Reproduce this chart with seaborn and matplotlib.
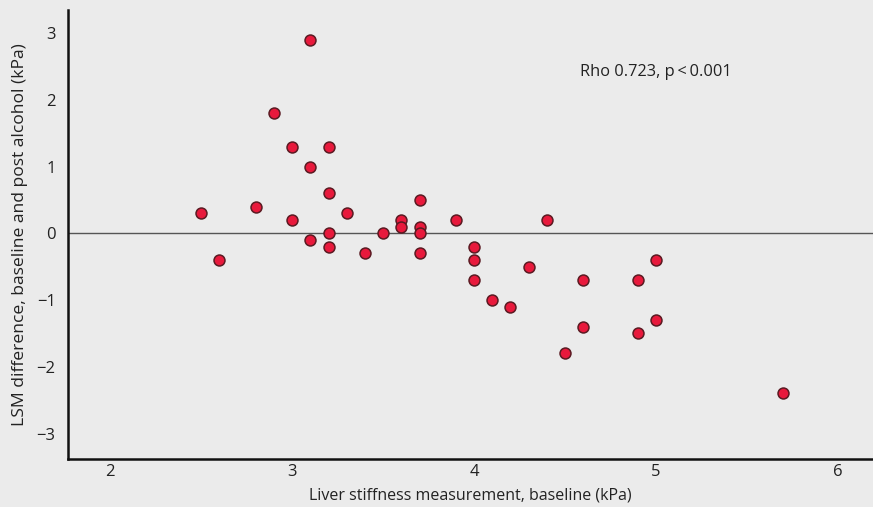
import seaborn as sns
import matplotlib.pyplot as plt
import pandas as pd

# datos
lsm_base = [2.5, 2.6, 2.8, 2.9, 3.0, 3.0, 3.1, 3.1, 3.1, 3.2, 3.2, 3.2, 3.2,
            3.3, 3.4, 3.5, 3.6, 3.6, 3.7, 3.7, 3.7, 3.7, 3.9, 4.0, 4.0, 4.0,
            4.1, 4.2, 4.3, 4.4, 4.5, 4.6, 4.6, 4.9, 4.9, 5.0, 5.0, 5.7]
lsm_diff = [0.3, -0.4, 0.4, 1.8, 1.3, 0.2, 2.9, 1.0, -0.1, 1.3, 0.6, 0.0, -0.2,
            0.3, -0.3, 0.0, 0.2, 0.1, 0.5, 0.1, 0.0, -0.3, 0.2, -0.2, -0.4, -0.7,
            -1.0, -1.1, -0.5, 0.2, -1.8, -0.7, -1.4, -0.7, -1.5, -0.4, -1.3, -2.4]
x_ticks = [2, 3, 4, 5, 6]
y_ticks = [-3, -2, -1, 0, 1, 2, 3]
anotacion = 'Rho 0.723, p\u2009<\u20090.001'

df = pd.DataFrame({'base': lsm_base, 'diff': lsm_diff})

sns.set_style('white')
plt.rcParams['font.family'] = ['Open Sans', 'DejaVu Sans']
fondo = '#ebebeb'

fig = plt.figure(figsize=(8.73, 5.07), dpi=100, facecolor=fondo)
ax = fig.add_axes([0.078, 0.095, 0.922, 0.885])
ax.set_facecolor(fondo)

ax.axhline(0, color='#555555', lw=1, zorder=1)
sns.scatterplot(data=df, x='base', y='diff', ax=ax, s=62, color='#e8193c',
                edgecolor='#5a1a22', linewidth=1.1, zorder=3)

ax.set_xlim(1.769, 6.192)
ax.set_ylim(-3.38, 3.35)
ax.set_xticks(x_ticks)
ax.set_yticks(y_ticks)
ax.tick_params(axis='both', length=0, labelsize=12, colors='#222222')
ax.tick_params(axis='x', pad=4)
ax.tick_params(axis='y', pad=9)

for lado in ['top', 'right']:
    ax.spines[lado].set_visible(False)
for lado in ['left', 'bottom']:
    ax.spines[lado].set_color('#111111')
    ax.spines[lado].set_linewidth(1.8)

ax.set_xlabel('Liver stiffness measurement, baseline (kPa)', fontsize=11.5,
              color='#222222', labelpad=5)
ax.set_ylabel('LSM difference, baseline and post alcohol (kPa)', fontsize=12.6,
              color='#222222', labelpad=6)

ax.text(4.58, 2.42, anotacion, fontsize=11.8, color='#222222', va='center', ha='left')

plt.savefig('out.png', dpi=100, facecolor=fondo)
